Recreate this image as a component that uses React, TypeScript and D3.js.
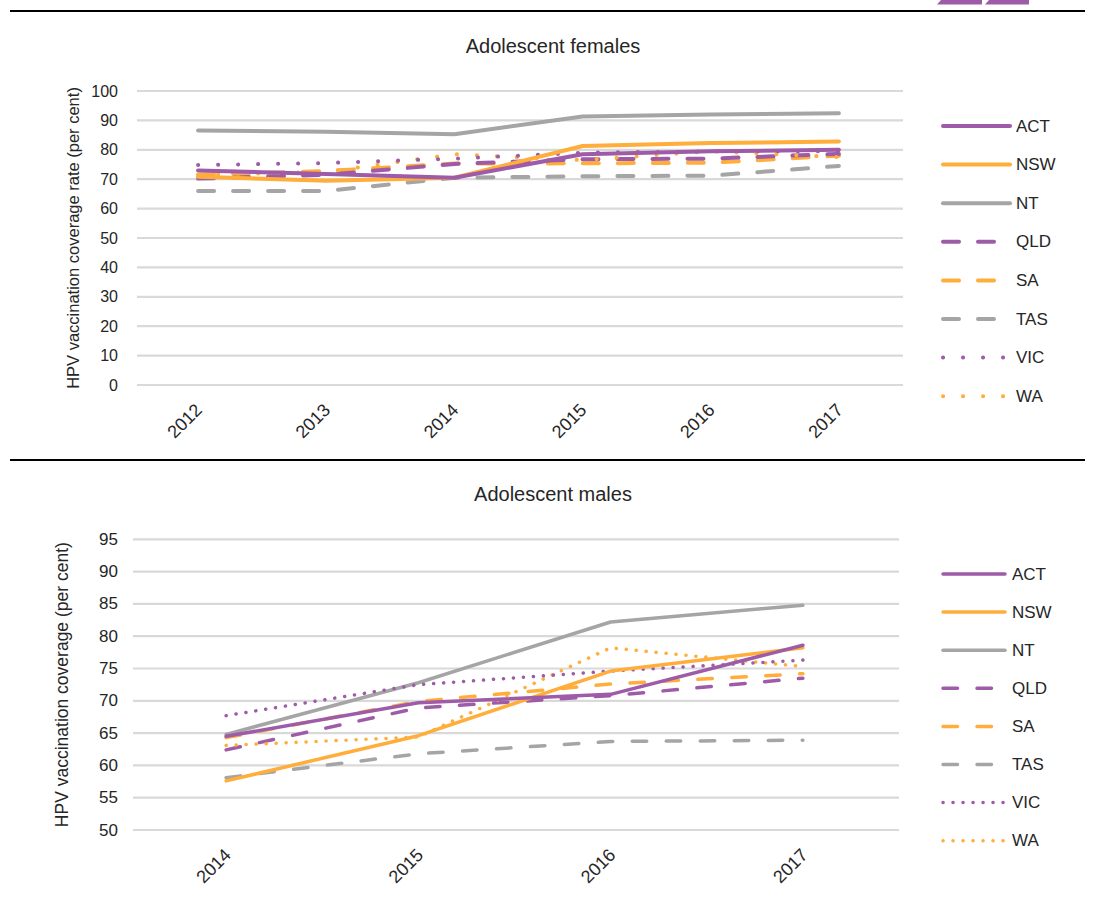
import React from 'react';
import * as d3 from 'd3';

const jurisdictions = ['ACT', 'NSW', 'NT', 'QLD', 'SA', 'TAS', 'VIC', 'WA'];

const femaleYears = ['2012', '2013', '2014', '2015', '2016', '2017'];
const femaleACT = [73, 71.8, 70.5, 78.5, 79.5, 80];
const femaleNSW = [70.8, 69.5, 70.5, 81.3, 82.3, 82.8];
const femaleNT = [86.6, 86.1, 85.3, 91.3, 92, 92.4];
const femaleQLD = [70.2, 71.5, 75.2, 76.8, 77, 78.6];
const femaleSA = [71.5, 72.8, 75.3, 75.4, 75.6, 78];
const femaleTAS = [66, 66, 70.5, 71, 71.2, 74.5];
const femaleVIC = [74.8, 75.5, 77, 79, 79.5, 79.5];
const femaleWA = [71.5, 72.5, 78.5, 76.5, 79.5, 77.5];
const femaleTicks = [0, 10, 20, 30, 40, 50, 60, 70, 80, 90, 100];

const maleYears = ['2014', '2015', '2016', '2017'];
const maleACT = [64.5, 69.7, 71, 78.6];
const maleNSW = [57.6, 64.6, 74.6, 78.2];
const maleNT = [64.8, 72.8, 82.2, 84.8];
const maleQLD = [62.4, 68.9, 70.8, 73.5];
const maleSA = [64.3, 69.9, 72.6, 74.2];
const maleTAS = [58.1, 61.8, 63.7, 63.9];
const maleVIC = [67.7, 72.5, 74.6, 76.3];
const maleWA = [63.1, 64.4, 78.2, 75.3];
const maleTicks = [50, 55, 60, 65, 70, 75, 80, 85, 90, 95];

const PURPLE = '#9E5BA8';
const ORANGE = '#FFAD3B';
const GREY = '#A5A5A5';
const GRID = '#D9D9D9';
const TEXT = '#262626';
const FONT = '"Liberation Sans", Arial, sans-serif';

const seriesColor = [PURPLE, ORANGE, GREY, PURPLE, ORANGE, GREY, PURPLE, ORANGE];
const seriesKind = ['solid', 'solid', 'solid', 'dash', 'dash', 'dash', 'dot', 'dot'];

type ChartProps = {
  title: string;
  yTitle: string;
  years: string[];
  series: number[][];
  ticks: number[];
  yDomain: [number, number];
  x0: number;
  x1: number;
  yTop: number;
  yBottom: number;
  titleY: number;
  yTitleX: number;
  yTitleSize: number;
  tickSize: number;
  labelDx: number;
  legendY0: number;
  legendStep: number;
  legendX1: number;
  legendTextX: number;
  width: number;
  dash: string;
  dot: string;
};

function Chart(p: ChartProps) {
  const x = d3.scalePoint<string>().domain(p.years).range([p.x0, p.x1]).padding(0.5);
  const y = d3.scaleLinear().domain(p.yDomain).range([p.yBottom, p.yTop]);
  const line = d3
    .line<number>()
    .x((_, i) => x(p.years[i]) as number)
    .y((d) => y(d));
  const dashFor = (k: string) => (k === 'dash' ? p.dash : k === 'dot' ? p.dot : undefined);
  const order = [2, 5, 4, 3, 7, 6, 1, 0];
  return (
    <g>
      <text x={553} y={p.titleY} textAnchor="middle" dominantBaseline="central" fontSize={20} fill={TEXT}>
        {p.title}
      </text>
      <text
        transform={`translate(${p.yTitleX},${(p.yTop + p.yBottom) / 2}) rotate(-90)`}
        textAnchor="middle"
        dominantBaseline="central"
        fontSize={p.yTitleSize}
        fill={TEXT}
      >
        {p.yTitle}
      </text>
      {p.ticks.map((t) => (
        <g key={t}>
          <line x1={p.x0 + 3} x2={p.x1} y1={y(t)} y2={y(t)} stroke={GRID} strokeWidth={2.2} />
          <text x={118} y={y(t)} textAnchor="end" dominantBaseline="central" fontSize={p.tickSize} fill={TEXT}>
            {t}
          </text>
        </g>
      ))}
      {p.years.map((yr) => (
        <text
          key={yr}
          transform={`translate(${(x(yr) as number) + p.labelDx},${p.yBottom + 17}) rotate(-45)`}
          textAnchor="end"
          dominantBaseline="hanging"
          fontSize={18}
          fill={TEXT}
        >
          {yr}
        </text>
      ))}
      {order.map((i) => (
        <path
          key={i}
          d={line(p.series[i]) as string}
          fill="none"
          stroke={seriesColor[i]}
          strokeWidth={p.width}
          strokeDasharray={dashFor(seriesKind[i])}
          strokeLinecap="round"
          strokeLinejoin="round"
        />
      ))}
      {jurisdictions.map((j, i) => {
        const ly = p.legendY0 + i * p.legendStep;
        return (
          <g key={j}>
            <line
              x1={943}
              x2={p.legendX1}
              y1={ly}
              y2={ly}
              stroke={seriesColor[i]}
              strokeWidth={p.width}
              strokeDasharray={dashFor(seriesKind[i])}
              strokeLinecap="round"
            />
            <text x={p.legendTextX} y={ly} dominantBaseline="central" fontSize={17} fill={TEXT}>
              {j}
            </text>
          </g>
        );
      })}
    </g>
  );
}

export default function App() {
  return (
    <svg
      width={1098}
      height={900}
      style={{ position: 'absolute', left: 0, top: 0, background: '#fff' }}
      fontFamily={FONT}
    >
      <rect x={0} y={0} width={1098} height={900} fill="#fff" />
      <polygon points="937,4.5 941,0 982,0 982,4.5" fill={PURPLE} />
      <polygon points="985,4.5 989,0 1029,0 1029,4.5" fill={PURPLE} />
      <line x1={10} x2={1085} y1={11} y2={11} stroke="#000" strokeWidth={2} />
      <line x1={10} x2={1085} y1={460} y2={460} stroke="#000" strokeWidth={2} />
      <Chart
        title="Adolescent females"
        yTitle="HPV vaccination coverage rate (per cent)"
        years={femaleYears}
        series={[femaleACT, femaleNSW, femaleNT, femaleQLD, femaleSA, femaleTAS, femaleVIC, femaleWA]}
        ticks={femaleTicks}
        yDomain={[0, 100]}
        x0={134}
        x1={903}
        yTop={91}
        yBottom={385}
        titleY={46}
        yTitleX={73}
        yTitleSize={16.5}
        tickSize={16}
        labelDx={-4}
        legendY0={126}
        legendStep={38.6}
        legendX1={1010}
        legendTextX={1016}
        width={4}
        dash="16 19"
        dot="0.1 19.9"
      />
      <Chart
        title="Adolescent males"
        yTitle="HPV vaccination coverage (per cent)"
        years={maleYears}
        series={[maleACT, maleNSW, maleNT, maleQLD, maleSA, maleTAS, maleVIC, maleWA]}
        ticks={maleTicks}
        yDomain={[50, 95]}
        x0={130}
        x1={899}
        yTop={539.3}
        yBottom={830}
        titleY={494}
        yTitleX={62}
        yTitleSize={17.5}
        tickSize={17}
        labelDx={-3}
        legendY0={574}
        legendStep={38.1}
        legendX1={1005}
        legendTextX={1012}
        width={3.5}
        dash="14.5 19.5"
        dot="0.1 9.9"
      />
    </svg>
  );
}
